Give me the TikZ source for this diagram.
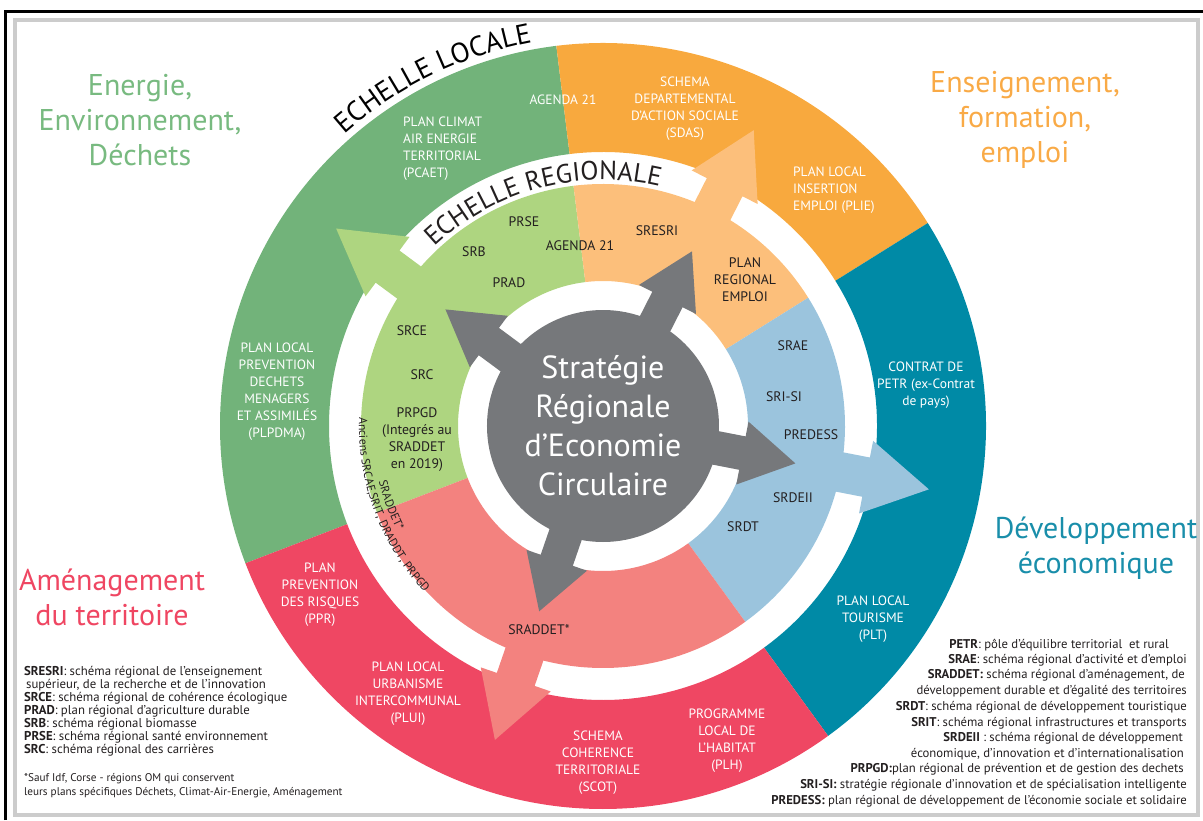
\documentclass[tikz,border=0pt]{standalone}
\usepackage{fontspec}
\setmainfont{PT Sans}
\usetikzlibrary{decorations.text}
\definecolor{gD}{RGB}{114,179,122}
\definecolor{oD}{RGB}{248,169,62}
\definecolor{tD}{RGB}{0,138,166}
\definecolor{rD}{RGB}{239,71,99}
\definecolor{gL}{RGB}{174,213,128}
\definecolor{oL}{RGB}{252,191,123}
\definecolor{bL}{RGB}{155,196,221}
\definecolor{rL}{RGB}{243,130,127}
\definecolor{gy}{RGB}{118,120,123}
\definecolor{txt}{RGB}{35,31,32}
\definecolor{gT}{RGB}{120,186,128}
\definecolor{oT}{RGB}{249,170,70}
\definecolor{tT}{RGB}{25,142,170}
\definecolor{rT}{RGB}{239,70,98}
\newcommand\rsector[5]{\fill[#1] (#2:#4) arc[start angle=#2, end angle=#3, radius=#4] -- (#3:#5) arc[start angle=#3, end angle=#2, radius=#5] -- cycle;}
\tikzset{
  loc/.style={text=white, font=\fontsize{13.5}{17}\selectfont, align=center, inner sep=0pt},
  reg/.style={text=txt, font=\fontsize{13.8}{17}\selectfont, align=center, inner sep=0pt},
  title/.style={font=\fontsize{30}{35}\selectfont, align=center, inner sep=0pt},
  legl/.style={text=txt, font=\fontsize{12.8}{13}\selectfont, inner sep=0pt, anchor=base west},
  legr/.style={text=txt, font=\fontsize{12.7}{13}\selectfont, inner sep=0pt, anchor=base east},
  foot/.style={text=txt, font=\fontsize{11.2}{12}\selectfont, inner sep=0pt, anchor=base west},
  lightarrow/.style={fill=#1},
  grayarrow/.style={fill=gy}
}
\begin{document}
\begin{tikzpicture}[x=1pt,y=1pt]
\useasboundingbox (-603,-394) rectangle (600,426);
% frame
\begin{scope}[shift={(-603,426)}, y=-1pt]
\draw[black!20, line width=4] (15,20) rectangle (1198,815);
\draw[black, line width=3] (6,820) -- (6,12) -- (1203,12);
\end{scope}
% local ring
\rsector{gD}{97}{201}{274}{383}
\rsector{oD}{32}{97}{274}{383}
\rsector{tD}{-54}{32}{274}{383}
\rsector{rD}{201}{306}{274}{383}
% regional ring
\rsector{gL}{97}{201}{145}{242}
\rsector{oL}{32}{97}{145}{242}
\rsector{bL}{-54}{32}{145}{242}
\rsector{rL}{201}{306}{145}{242}
% light arrows
\foreach \a/\c in {143.5/gL, 63/oL, -11/bL, -109/rL}
  \path[lightarrow=\c, rotate=\a] (228,-20) -- (268,-20) -- (268,-37) -- (332,0) -- (268,37) -- (268,20) -- (228,20) -- cycle;
% gray core
\fill[gy] (0,0) circle (116);
\foreach \a in {143.5, 63, -11, -109}
  \path[grayarrow, rotate=\a] (100,-17) -- (142,-17) -- (142,-32) -- (196,0) -- (142,32) -- (142,17) -- (100,17) -- cycle;
% curved titles
\path[decorate, decoration={text along path, text align=center, text={|\fontsize{28}{28}\selectfont\color{black}|ECHELLE LOCALE}}] (156:390) arc[start angle=156, end angle=76, radius=390];
\path[decorate, decoration={text along path, text align=center, text={|\fontsize{26.5}{26.5}\selectfont\color{txt}|ECHELLE REGIONALE}}] (155:246) arc[start angle=155, end angle=55, radius=246];
\path[decorate, decoration={text along path, text align=center, text={|\fontsize{11.8}{12}\selectfont\color{txt}|Anciens SRCAE,SRIT, DRADDT, PRPGD}}] (150:244) arc[start angle=150, end angle=251, radius=244];
\path[decorate, decoration={text along path, text align=center, text={|\fontsize{11.8}{12}\selectfont\color{txt}|SRADDET*}}] (150.5:231) arc[start angle=150.5, end angle=250.5, radius=231];
\begin{scope}[shift={(-603,426)}, y=-1pt]
% center
\node[font=\fontsize{32}{39}\selectfont, text=white, align=center, inner sep=0pt] (core) at (603,426) {Stratégie\\Régionale\\d’Economie\\Circulaire};
% titles
\node[title, text=gT] (t1) at (140,120) {Energie,\\Environnement,\\Déchets};
\node[title, text=oT] (t2) at (1025,120) {Enseignement,\\formation,\\emploi};
\node[title, text=tT] (t3) at (1096,548) {Développement\\économique};
\node[title, text=rT] (t4) at (112,597) {Aménagement\\du territoire};
% local labels
\node[loc] (agL) at (563,100) {AGENDA 21};
\node[loc, align=left, anchor=west] (pcaet) at (403,148.5) {PLAN CLIMAT\\AIR ENERGIE\\TERRITORIAL\\(PCAET)};
\node[loc] (sdas) at (685,108.5) {SCHEMA\\DEPARTEMENTAL\\D’ACTION SOCIALE\\(SDAS)};
\node[loc, align=left, anchor=west] (plie) at (793,190) {PLAN LOCAL\\INSERTION\\EMPLOI (PLIE)};
\node[loc] (plpdma) at (277,391.5) {PLAN LOCAL\\PREVENTION\\DECHETS\\MENAGERS\\ET ASSIMILÉS\\(PLPDMA)};
\node[loc] (petr) at (926,385.5) {CONTRAT DE\\PETR (ex-Contrat\\de pays)};
\node[loc] (plt) at (873,619.5) {PLAN LOCAL\\TOURISME\\(PLT)};
\node[loc] (ppr) at (320,595) {PLAN\\PREVENTION\\DES RISQUES\\(PPR)};
\node[loc] (plui) at (408,693.5) {PLAN LOCAL\\URBANISME\\INTERCOMMUNAL\\(PLUI)};
\node[loc] (scot) at (598,763) {SCHEMA\\COHERENCE\\TERRITORIALE\\(SCOT)};
\node[loc] (plh) at (727,741) {PROGRAMME\\LOCAL DE\\L’HABITAT\\(PLH)};
% regional labels
\node[reg] (prse) at (524,222) {PRSE};
\node[reg] (srb) at (474,252) {SRB};
\node[reg] (agR) at (580,246) {AGENDA 21};
\node[reg] (prad) at (509,283) {PRAD};
\node[reg] (sresri) at (657,231) {SRESRI};
\node[reg] (pre) at (745,279.5) {PLAN\\REGIONAL\\EMPLOI};
\node[reg] (srce) at (412,331) {SRCE};
\node[reg] (src) at (422,375) {SRC};
\node[reg] (prpgd) at (417,440) {PRPGD\\(Integrés au\\SRADDET\\en 2019)};
\node[reg] (srae) at (793,346) {SRAE};
\node[reg] (srisi) at (784,397) {SRI-SI};
\node[reg] (predess) at (811,435) {PREDESS};
\node[reg] (srdeii) at (793,498) {SRDEII};
\node[reg] (srdt) at (743,527) {SRDT};
\node[reg] (sraddet) at (539,630) {SRADDET*};
% left legend
\node[legl] (l1) at (24,675.5) {\textbf{SRESRI}: schéma régional de l’enseignement};
\node[legl] (l2) at (26,688.5) {supérieur, de la recherche et de l’innovation};
\node[legl] (l3) at (24,701.5) {\textbf{SRCE}: schéma régional de cohérence écologique};
\node[legl] (l4) at (24,714.5) {\textbf{PRAD}: plan régional d’agriculture durable};
\node[legl] (l5) at (24,727.5) {\textbf{SRB}: schéma régional biomasse};
\node[legl] (l6) at (24,740.5) {\textbf{PRSE}: schéma régional santé environnement};
\node[legl] (l7) at (24,753.5) {\textbf{SRC}: schéma régional des carrières};
\node[foot] (f1) at (24,781.5) {*Sauf Idf, Corse - régions OM qui conservent};
\node[foot] (f2) at (24,795.5) {leurs plans spécifiques Déchets, Climat-Air-Energie, Aménagement};
% right legend
\node[legr] (r1) at (1169,648) {\textbf{PETR}: pôle d’équilibre territorial\ \ et rural};
\node[legr] (r2) at (1187,663) {\textbf{SRAE}: schéma régional d’activité et d’emploi};
\node[legr] (r3) at (1185,678) {\textbf{SRADDET:} schéma régional d’aménagement, de};
\node[legr] (r4) at (1187,694) {développement durable et d’égalité des territoires};
\node[legr] (r5) at (1187,710) {\textbf{SRDT}: schéma régional de développement touristique};
\node[legr] (r6) at (1187,726) {\textbf{SRIT}: schéma régional infrastructures et transports};
\node[legr] (r7) at (1183,741) {\textbf{SRDEII} : schéma régional de développement};
\node[legr] (r8) at (1184,757) {économique, d’innovation et d’internationalisation};
\node[legr] (r9) at (1184,772) {\textbf{PRPGD:}plan régional de prévention et de gestion des dechets};
\node[legr] (r10) at (1187,788) {\textbf{SRI-SI:} stratégie régionale d’innovation et de spécialisation intelligente};
\node[legr] (r11) at (1187,804) {\textbf{PREDESS:} plan régional de développement de l’économie sociale et solidaire};
\end{scope}
\end{tikzpicture}
\end{document}
